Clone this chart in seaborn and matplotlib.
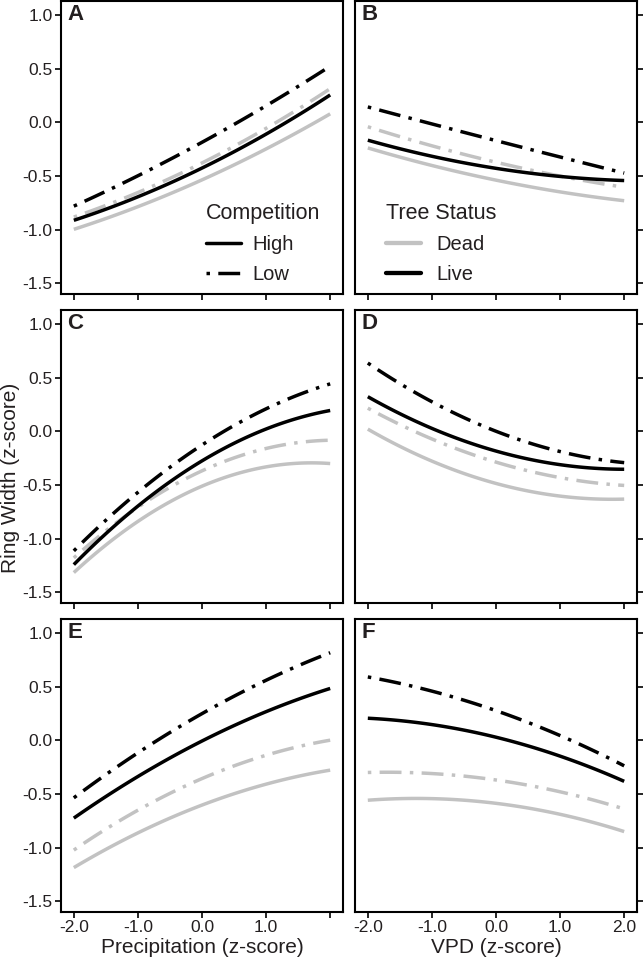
import pandas as pd
import matplotlib
matplotlib.use("Agg")
import matplotlib.pyplot as plt
import seaborn as sns
from matplotlib.lines import Line2D

# x positions where the fitted curves were read (z-score)
X_VALS = [-2.0, -1.0, 0.0, 1.0, 2.0]

# panel A - precipitation
A_DEAD_HIGH = [-0.99, -0.80, -0.54, -0.23, 0.07]
A_DEAD_LOW = [-0.88, -0.66, -0.38, -0.05, 0.31]
A_LIVE_HIGH = [-0.91, -0.70, -0.43, -0.10, 0.25]
A_LIVE_LOW = [-0.78, -0.50, -0.19, 0.16, 0.52]
# panel B - VPD
B_DEAD_HIGH = [-0.24, -0.40, -0.54, -0.65, -0.73]
B_DEAD_LOW = [-0.05, -0.20, -0.38, -0.51, -0.60]
B_LIVE_HIGH = [-0.17, -0.31, -0.43, -0.51, -0.54]
B_LIVE_LOW = [0.14, -0.01, -0.17, -0.33, -0.47]
# panel C - precipitation
C_DEAD_HIGH = [-1.30, -0.88, -0.49, -0.32, -0.31]
C_DEAD_LOW = [-1.17, -0.73, -0.36, -0.15, -0.09]
C_LIVE_HIGH = [-1.22, -0.75, -0.25, 0.04, 0.18]
C_LIVE_LOW = [-1.08, -0.65, -0.09, 0.24, 0.42]
# panel D - VPD
D_DEAD_HIGH = [0.01, -0.26, -0.48, -0.63, -0.62]
D_DEAD_LOW = [0.20, -0.04, -0.29, -0.46, -0.49]
D_LIVE_HIGH = [0.31, 0.05, -0.18, -0.34, -0.34]
D_LIVE_LOW = [0.62, 0.31, -0.01, -0.21, -0.28]
# panel E - precipitation
E_DEAD_HIGH = [-1.18, -0.88, -0.59, -0.41, -0.28]
E_DEAD_LOW = [-1.02, -0.66, -0.35, -0.14, 0.00]
E_LIVE_HIGH = [-0.72, -0.35, 0.00, 0.27, 0.48]
E_LIVE_LOW = [-0.53, -0.13, 0.25, 0.57, 0.81]
# panel F - VPD
F_DEAD_HIGH = [-0.56, -0.54, -0.59, -0.69, -0.85]
F_DEAD_LOW = [-0.30, -0.31, -0.37, -0.48, -0.64]
F_LIVE_HIGH = [0.20, 0.16, 0.02, -0.15, -0.38]
F_LIVE_LOW = [0.59, 0.46, 0.27, 0.05, -0.24]

PANELS = ["A", "B", "C", "D", "E", "F"]
Y_TICKS = [-1.5, -1.0, -0.5, 0.0, 0.5, 1.0]
Y_TICK_LABELS = ["-1.5", "-1.0", "-0.5", "0.0", "0.5", "1.0"]
X_TICK_LABELS_LEFT = ["-2.0", "-1.0", "0.0", "1.0", ""]
X_TICK_LABELS_RIGHT = ["-2.0", "-1.0", "0.0", "1.0", "2.0"]


def build_frame():
    series = {
        "A": (A_DEAD_HIGH, A_DEAD_LOW, A_LIVE_HIGH, A_LIVE_LOW),
        "B": (B_DEAD_HIGH, B_DEAD_LOW, B_LIVE_HIGH, B_LIVE_LOW),
        "C": (C_DEAD_HIGH, C_DEAD_LOW, C_LIVE_HIGH, C_LIVE_LOW),
        "D": (D_DEAD_HIGH, D_DEAD_LOW, D_LIVE_HIGH, D_LIVE_LOW),
        "E": (E_DEAD_HIGH, E_DEAD_LOW, E_LIVE_HIGH, E_LIVE_LOW),
        "F": (F_DEAD_HIGH, F_DEAD_LOW, F_LIVE_HIGH, F_LIVE_LOW),
    }
    keys = [("Dead", "High"), ("Dead", "Low"), ("Live", "High"), ("Live", "Low")]
    rows = []
    for panel, vals in series.items():
        for (status, comp), ys in zip(keys, vals):
            for x, y in zip(X_VALS, ys):
                rows.append({"panel": panel, "status": status,
                             "competition": comp, "x": x, "y": y})
    return pd.DataFrame(rows)


df = build_frame()

sns.set_style("ticks")
plt.rcParams["font.family"] = ["Liberation Sans", "DejaVu Sans"]
TXT = "#231f20"
GRAY = "#c2c2c2"
LW = 2.5
# dot first, then a long dash
DASH_SEQ = (6.3, 2.4, 1, 2.4)
DASHDOT = (8.7, DASH_SEQ)
colors = {"Dead": GRAY, "Live": "black"}
styles = {"High": "-", "Low": DASHDOT}

fig = plt.figure(figsize=(6.44, 9.65), dpi=100)
W, H = 644, 965
col_left = [61, 355]
row_top = [1, 310, 619]
ax_w, ax_h = 282, 293

axes = {}
for i, panel in enumerate(PANELS):
    r, c = divmod(i, 2)
    rect = [col_left[c] / W, 1 - (row_top[r] + ax_h) / H, ax_w / W, ax_h / H]
    ax = fig.add_axes(rect)
    axes[panel] = ax
    sub = df[df["panel"] == panel]
    for status in ["Dead", "Live"]:
        for comp in ["High", "Low"]:
            d = sub[(sub["status"] == status) & (sub["competition"] == comp)]
            sns.regplot(data=d, x="x", y="y", order=2, ci=None, scatter=False,
                        truncate=True, ax=ax,
                        line_kws={"color": colors[status], "lw": LW,
                                  "linestyle": styles[comp],
                                  "solid_capstyle": "butt",
                                  "dash_capstyle": "butt"})
    ax.set_xlim(-2.2, 2.2)
    ax.set_ylim(-1.60, 1.13)
    ax.set_xlabel("")
    ax.set_ylabel("")
    ax.set_xticks(X_VALS)
    ax.set_yticks(Y_TICKS)
    for sp in ax.spines.values():
        sp.set_visible(True)
        sp.set_linewidth(1.5)
        sp.set_color("black")
    ax.tick_params(direction="out", length=4, width=1.2, colors="black",
                   labelcolor=TXT, labelsize=12.5, pad=2)
    if c == 0:
        ax.set_yticklabels(Y_TICK_LABELS)
        ax.set_xticklabels(X_TICK_LABELS_LEFT if r == 2 else [""] * 5)
    else:
        ax.yaxis.tick_right()
        ax.tick_params(axis="y", labelright=False)
        ax.set_xticklabels(X_TICK_LABELS_RIGHT if r == 2 else [""] * 5)
    ax.text(0.022, 0.99, panel, transform=ax.transAxes, ha="left", va="top",
            fontsize=16, fontweight="bold", color=TXT)

axes["E"].set_xlabel("Precipitation (z-score)", fontsize=15, color=TXT, labelpad=2)
axes["F"].set_xlabel("VPD (z-score)", fontsize=15, color=TXT, labelpad=2)
fig.text(11 / W, 1 - 478 / H, "Ring Width (z-score)", rotation=90,
         ha="center", va="center", fontsize=15, color=TXT)

# legends
comp_handles = [Line2D([], [], color="black", lw=LW, linestyle="-"),
                Line2D([], [], color="black", lw=LW, linestyle=DASHDOT)]
leg = axes["A"].legend(comp_handles, ["High", "Low"], title="Competition",
                       loc="upper left", bbox_to_anchor=(0.515, 0.31),
                       frameon=False, fontsize=14.5, title_fontsize=15.5,
                       alignment="left", handlelength=1.75, handletextpad=0.55,
                       labelspacing=0.55, borderpad=0, borderaxespad=0)
for t in leg.get_texts():
    t.set_color(TXT)
leg.get_title().set_color(TXT)

status_handles = [Line2D([], [], color=GRAY, lw=LW + 0.6),
                  Line2D([], [], color="black", lw=LW + 0.6)]
leg2 = axes["B"].legend(status_handles, ["Dead", "Live"], title="Tree Status",
                        loc="upper left", bbox_to_anchor=(0.11, 0.31),
                        frameon=False, fontsize=14.5, title_fontsize=15.5,
                        alignment="left", handlelength=1.75, handletextpad=0.75,
                        labelspacing=0.55, borderpad=0, borderaxespad=0)
for t in leg2.get_texts():
    t.set_color(TXT)
leg2.get_title().set_color(TXT)

fig.savefig("out.png", dpi=100)
